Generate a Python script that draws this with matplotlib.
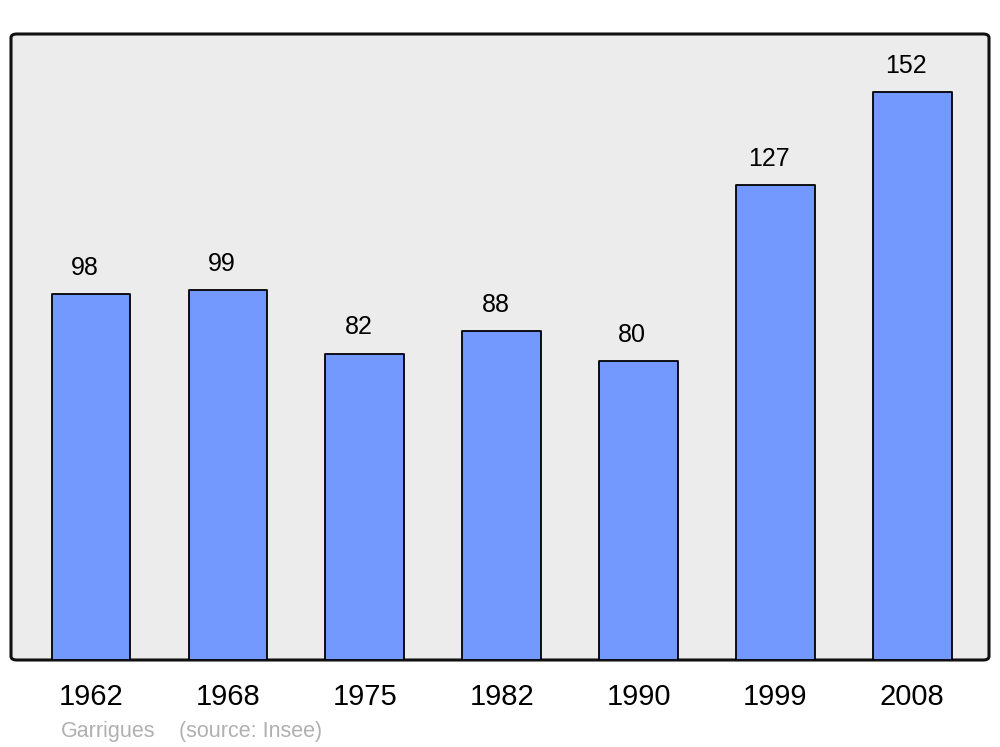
import matplotlib
matplotlib.use("Agg")
import matplotlib.pyplot as plt
from matplotlib.patches import FancyBboxPatch

years = ["1962", "1968", "1975", "1982", "1990", "1999", "2008"]
population = [98, 99, 82, 88, 80, 127, 152]
source_place = "Garrigues"
source_note = "(source: Insee)"

plt.rcParams['font.family'] = ['Liberation Sans', 'DejaVu Sans']

fig = plt.figure(figsize=(10, 7.47), dpi=100)
ax = fig.add_axes([0.011, 1 - 660 / 747, 0.978, (660 - 34) / 747])
ax.set_facecolor('none')
ax.patch.set_visible(False)
for s in ax.spines.values():
    s.set_visible(False)

frame = FancyBboxPatch((0, 0), 1, 1, boxstyle="round,pad=0,rounding_size=0.006",
                       transform=ax.transAxes, facecolor='#ececec', edgecolor='#111111',
                       linewidth=2.2, zorder=0, clip_on=False)
ax.add_patch(frame)

x = list(range(len(years)))
bars = ax.bar(x, population, width=0.575, color='#7399ff', edgecolor='#000000',
              linewidth=1.3, zorder=2)
for b in bars:
    b.set_joinstyle('round')

ax.set_xlim(-0.585, 6.56)
ax.set_ylim(0, 167.5)
ax.set_yticks([])
ax.set_xticks(x)
ax.set_xticklabels(years, fontsize=21)
ax.tick_params(axis='x', length=0, pad=16.5)

for xi, v in zip(x, population):
    ax.annotate(str(v), xy=(xi, v), xytext=(-4.5, 18.8), textcoords='offset points',
                ha='center', va='center', fontsize=18, color='#000000')

fig.text(61 / 1000, 1 - 731 / 747, source_place, fontsize=15.5, color='#b0b0b0',
         ha='left', va='center')
fig.text(179 / 1000, 1 - 731 / 747, source_note, fontsize=15.5, color='#b0b0b0',
         ha='left', va='center')

fig.savefig('out.png', dpi=100, facecolor='white')
